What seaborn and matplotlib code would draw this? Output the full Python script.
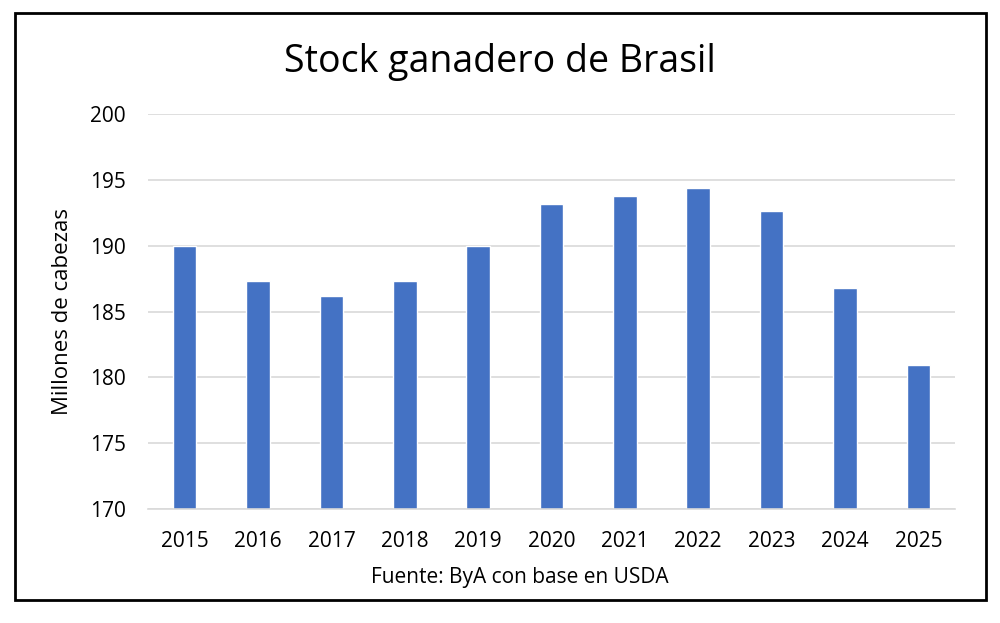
import pandas as pd
import matplotlib
matplotlib.use('Agg')
import matplotlib.pyplot as plt
import seaborn as sns
from matplotlib.patches import Rectangle

# Data
years = ['2015', '2016', '2017', '2018', '2019', '2020',
         '2021', '2022', '2023', '2024', '2025']
stock = [190.0, 187.3, 186.2, 187.3, 190.0, 193.2,
         193.8, 194.4, 192.6, 186.8, 180.9]
y_ticks = [170, 175, 180, 185, 190, 195, 200]

df = pd.DataFrame({'year': years, 'stock': stock})

sns.set_theme(style="white")
plt.rcParams['font.family'] = ['Open Sans', 'DejaVu Sans']
plt.rcParams['text.color'] = 'black'
plt.rcParams['axes.labelcolor'] = 'black'

fig = plt.figure(figsize=(10, 6.23), dpi=100)
ax = fig.add_axes([0.148, 1 - 509 / 623, 0.807, 395 / 623])

sns.barplot(data=df, x='year', y='stock', color='#4472C4', width=0.32,
            saturation=1, ax=ax)

ax.set_ylim(170, 200)
ax.set_yticks(y_ticks)
ax.yaxis.grid(True, color='#d9d9d9', linewidth=1.2)
ax.set_axisbelow(True)
for side in ['top', 'right', 'left']:
    ax.spines[side].set_visible(False)
ax.spines['bottom'].set_color('#d9d9d9')
ax.spines['bottom'].set_linewidth(1.2)
ax.tick_params(axis='both', length=0, labelsize=15, colors='black')
ax.tick_params(axis='x', pad=16)
ax.tick_params(axis='y', pad=16)

ax.set_xlabel('')
ax.set_ylabel('Millones de cabezas', fontsize=16, labelpad=12)

# source note, sits a bit left of the plot centre like the original
fig.text(0.52, 1 - 577 / 623, 'Fuente: ByA con base en USDA', ha='center',
         va='center', fontsize=15)

fig.text(0.5, 1 - 62 / 623, 'Stock ganadero de Brasil', ha='center',
         va='center', fontsize=27, color='black')

# Black frame around the chart
fig.patches.append(Rectangle((15 / 1000, 1 - 600 / 623), 971 / 1000, 587 / 623,
                             transform=fig.transFigure, fill=False,
                             edgecolor='black', linewidth=2))

fig.savefig('out.png', dpi=100)
